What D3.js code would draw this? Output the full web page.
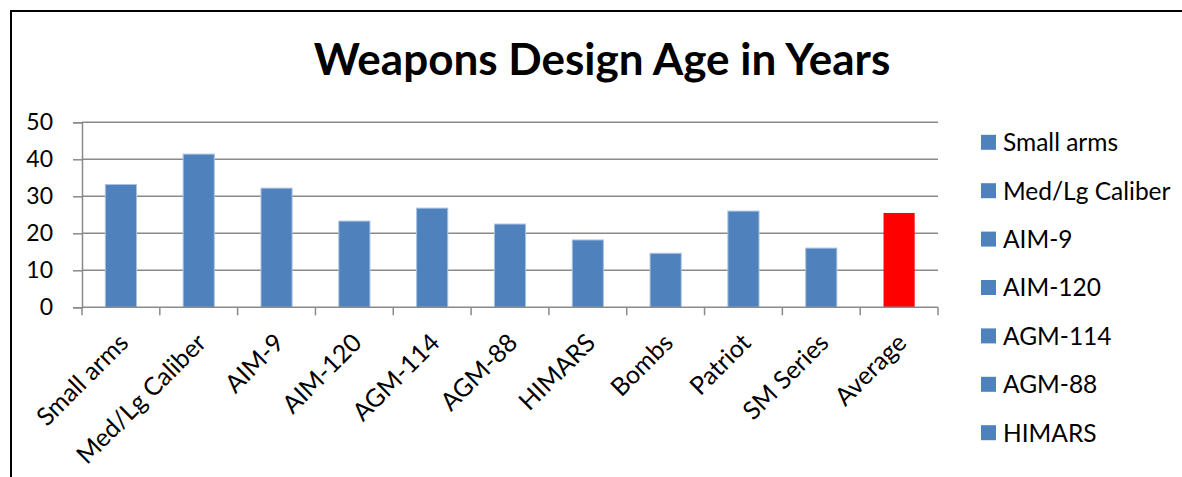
<!DOCTYPE html>
<html>
<head>
<meta charset="utf-8">
<script src="https://cdn.jsdelivr.net/npm/d3@7"></script>
<style>
  html, body { margin: 0; padding: 0; background: #fff; }
  svg { display: block; }
  text { font-family: Lato, "Open Sans", sans-serif; fill: #000; }
</style>
</head>
<body>
<svg id="chart" width="1182" height="477"></svg>
<script>
const title = "Weapons Design Age in Years";
const categories = ["Small arms", "Med/Lg Caliber", "AIM-9", "AIM-120", "AGM-114", "AGM-88", "HIMARS", "Bombs", "Patriot", "SM Series", "Average"];
const values = [33.2, 41.4, 32.2, 23.3, 26.8, 22.5, 18.2, 14.6, 26.0, 16.0, 25.5];
const yTicks = [0, 10, 20, 30, 40, 50];
const legendItems = categories.slice(0, 7);

const svg = d3.select("#chart");
const W = 1182, H = 477;
const plot = { left: 82, right: 938, top: 122.3, bottom: 307.3 };

const BLUE = "#4F81BD", RED = "#FF0000", GRID = "#8a8a8a";

// frame (top and left edges visible)
svg.append("path")
  .attr("d", `M11,${H} L11,11 L${W},11`)
  .attr("fill", "none").attr("stroke", "#000").attr("stroke-width", 2);

// title
svg.append("text")
  .attr("x", 602).attr("y", 75)
  .attr("text-anchor", "middle")
  .style("font-size", "44px").style("font-weight", "bold")
  .text(title);

const y = d3.scaleLinear().domain([0, 50]).range([plot.bottom, plot.top]);
const x = d3.scaleBand().domain(categories).range([plot.left, plot.right])
  .paddingInner(0.6).paddingOuter(0.3);
const xSlot = d3.scaleBand().domain(categories).range([plot.left, plot.right]).padding(0);

// gridlines
svg.append("g").selectAll("line").data(yTicks.filter(d => d > 0)).join("line")
  .attr("x1", plot.left).attr("x2", plot.right)
  .attr("y1", d => y(d)).attr("y2", d => y(d))
  .attr("stroke", GRID).attr("stroke-width", 1.5);

// y axis
const yAxis = d3.axisLeft(y).tickValues(yTicks).tickSize(9).tickPadding(20);
const gy = svg.append("g").attr("transform", `translate(${plot.left},0)`).call(yAxis);
gy.select(".domain").attr("stroke", GRID).attr("stroke-width", 1.5);
gy.selectAll(".tick line").attr("stroke", GRID).attr("stroke-width", 1.5);
gy.selectAll(".tick text").style("font-size", "23px").style("font-family", "Lato, sans-serif").attr("fill", "#000");

// bars
svg.append("g").selectAll("rect").data(categories).join("rect")
  .attr("x", d => x(d))
  .attr("width", x.bandwidth())
  .attr("y", (d, i) => y(values[i]))
  .attr("height", (d, i) => y(0) - y(values[i]))
  .attr("fill", (d, i) => d === "Average" ? RED : BLUE)
  .attr("stroke", (d, i) => d === "Average" ? "none" : "#a9c1df")
  .attr("stroke-width", 1);

// x axis line and ticks at category boundaries
const boundaries = categories.map(c => xSlot(c)).concat([plot.right]);
svg.append("line")
  .attr("x1", plot.left).attr("x2", plot.right)
  .attr("y1", plot.bottom).attr("y2", plot.bottom)
  .attr("stroke", GRID).attr("stroke-width", 1.5);
svg.append("g").selectAll("line").data(boundaries).join("line")
  .attr("x1", d => d).attr("x2", d => d)
  .attr("y1", plot.bottom).attr("y2", plot.bottom + 8)
  .attr("stroke", GRID).attr("stroke-width", 1.5);

// x labels
svg.append("g").selectAll("text").data(categories).join("text")
  .attr("text-anchor", "end")
  .attr("transform", d => `translate(${xSlot(d) + xSlot.bandwidth() / 2 + 9},${plot.bottom + 37}) rotate(-45)`)
  .style("font-size", "25px")
  .text(d => d);

// legend
const lg = svg.append("g").selectAll("g").data(legendItems).join("g")
  .attr("transform", (d, i) => `translate(981,${142.3 + i * 48.4})`);
lg.append("rect").attr("x", 0).attr("y", -7.5).attr("width", 15).attr("height", 15).attr("fill", BLUE);
lg.append("text").attr("x", 22).attr("y", 0).attr("dy", "0.36em")
  .style("font-size", "24.5px").text(d => d);
</script>
</body>
</html>
